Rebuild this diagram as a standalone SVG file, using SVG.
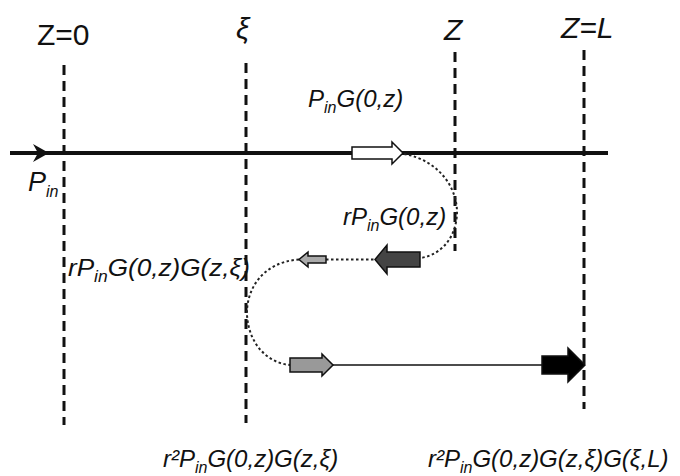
<svg xmlns="http://www.w3.org/2000/svg" width="680" height="476" viewBox="0 0 680 476">
<style>
.dash{stroke:#111;stroke-width:3;stroke-dasharray:10,6;fill:none}
.dot{stroke:#222;stroke-width:2;stroke-dasharray:2.5,2.5;fill:none}
.lbl{font-family:"Liberation Sans",Arial,sans-serif;fill:#111}
.ax{font-size:30px}
.f{font-size:24px;font-style:italic}
.sub{font-size:16px}
.blk{stroke:#111;stroke-width:1.5}
</style>
<rect width="680" height="476" fill="#fff"/>
<g id="axes">
<line class="dash" x1="64" y1="65" x2="64" y2="425"/>
<line class="dash" x1="246" y1="63" x2="246" y2="423"/>
<line class="dash" x1="455" y1="52" x2="455" y2="251"/>
<line class="dash" x1="584" y1="50" x2="584" y2="409"/>
</g>
<g id="axis-labels" class="lbl">
<text class="ax" x="37" y="45">Z=0</text>
<text class="ax" x="236" y="39" font-size="32" font-style="italic">ξ</text>
<text class="ax" x="444" y="40" font-style="italic">Z</text>
<text class="ax" x="561" y="38" font-style="italic">Z=L</text>
</g>
<g id="connectors">
<line x1="10" y1="153" x2="608" y2="153" stroke="#111" stroke-width="4"/>
<polygon points="33,144 49,153 33,162 38,153" fill="#111"/>
<path class="dot" d="M404,154 C440,160 462,192 456,222 C452,244 436,256 420,258"/>
<line class="dot" x1="326" y1="259.5" x2="375" y2="259.5"/>
<path class="dot" d="M299,259.5 C262,262 246,290 247,315 C249,345 268,363 290,365"/>
<line x1="333" y1="365" x2="542" y2="365" stroke="#111" stroke-width="1.5"/>
</g>
<g id="arrow-forward">
<path class="blk" fill="#fff" d="M352,147 H392 V142 L403,153 L392,164 V159 H352 Z"/>
</g>
<g id="arrow-reflected">
<path class="blk" fill="#444" d="M420,252 H387 V245 L375,259.5 L387,274 V267 H420 Z"/>
</g>
<g id="arrow-reflected-small">
<path class="blk" fill="#aaa" d="M326,256 H308 V252 L299,259.5 L308,267 V263 H326 Z"/>
</g>
<g id="arrow-second">
<path class="blk" fill="#999" d="M290,358 H322 V354 L333,365 L322,376 V372 H290 Z"/>
</g>
<g id="arrow-output">
<path class="blk" fill="#000" d="M542,356 H568 V348 L585,365 L568,382 V374 H542 Z"/>
</g>
<g id="labels" class="lbl">
<text x="28" y="191" font-size="27" font-style="italic">P<tspan class="sub" dy="6">in</tspan></text>
<text class="f" x="308" y="107">P<tspan class="sub" dy="6">in</tspan><tspan dy="-6">G(0,z)</tspan></text>
<text class="f" x="343" y="225">rP<tspan class="sub" dy="6">in</tspan><tspan dy="-6">G(0,z)</tspan></text>
<text class="f" x="68" y="276" font-size="25" textLength="182" lengthAdjust="spacingAndGlyphs">rP<tspan class="sub" dy="6">in</tspan><tspan dy="-6">G(0,z)G(z,ξ)</tspan></text>
<text class="f" x="163" y="467">r²P<tspan class="sub" dy="6">in</tspan><tspan dy="-6">G(0,z)G(z,ξ)</tspan></text>
<text class="f" x="428" y="467">r²P<tspan class="sub" dy="6">in</tspan><tspan dy="-6">G(0,z)G(z,ξ)G(ξ,L)</tspan></text>
</g>
</svg>
